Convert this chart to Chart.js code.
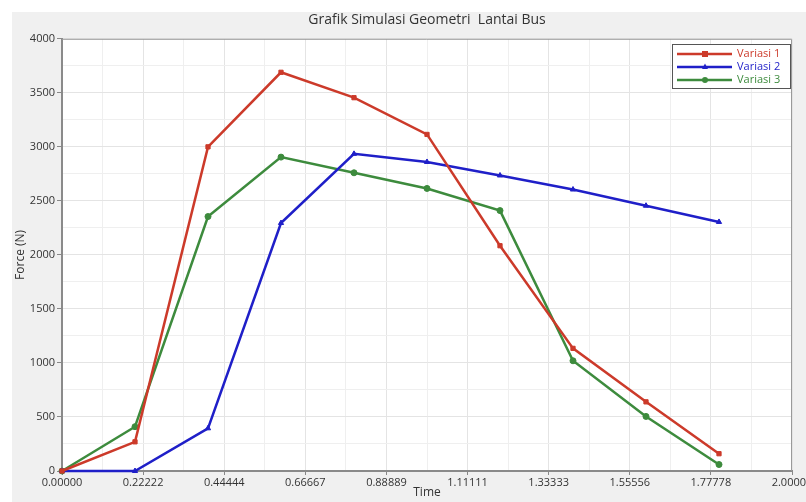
<!DOCTYPE html>
<html>
<head>
<meta charset="utf-8">
<script src="https://cdn.jsdelivr.net/npm/chart.js@4"></script>
<style>
  html, body { margin: 0; padding: 0; background: #fff; }
  #wrap { width: 806px; height: 502px; }
</style>
</head>
<body>
<div id="wrap"><canvas id="c" width="806" height="502"></canvas></div>
<script>
// --- DATA ---
const timeValues = [0, 0.2, 0.4, 0.6, 0.8, 1.0, 1.2, 1.4, 1.6, 1.8];
const variasi1 = [0, 270, 3000, 3690, 3455, 3115, 2085, 1135, 640, 160];
const variasi2 = [0, 0, 395, 2295, 2935, 2860, 2735, 2605, 2455, 2305];
const variasi3 = [0, 410, 2355, 2905, 2760, 2615, 2410, 1020, 505, 60];
const seriesNames = ["Variasi 1", "Variasi 2", "Variasi 3"];
const xTickLabels = ["0.00000", "0.22222", "0.44444", "0.66667", "0.88889", "1.11111", "1.33333", "1.55556", "1.77778", "2.00000"];
const yTickLabels = [0, 500, 1000, 1500, 2000, 2500, 3000, 3500, 4000];

const COLORS = ["#cc3a2a", "#1f1fc8", "#3d8b3d"];
const STYLES = ["rect", "triangle", "circle"];
const FONT = "'Open Sans', 'Noto Sans', sans-serif";

// major ticks + a minor one halfway between each pair
const withMinor = (major) => {
  const out = [];
  major.forEach((v, i) => {
    out.push({ value: v, major: true });
    if (i < major.length - 1) out.push({ value: (v + major[i + 1]) / 2, major: false });
  });
  return out;
};
const xTicks = withMinor(xTickLabels.map(Number));
const yTicks = withMinor(yTickLabels);

const toPoints = (ys) => ys.map((y, i) => ({ x: timeValues[i], y }));

const datasets = [variasi1, variasi2, variasi3].map((ys, i) => ({
  label: seriesNames[i],
  data: toPoints(ys),
  borderColor: COLORS[i],
  backgroundColor: COLORS[i],
  borderWidth: 2.5,
  pointStyle: STYLES[i],
  pointRadius: 3,
  pointBorderWidth: 1,
  tension: 0,
  clip: false
}));

// --- PLUGINS ---
const backdrop = {
  id: "backdrop",
  beforeDraw(chart) {
    const { ctx, chartArea: a } = chart;
    ctx.save();
    ctx.fillStyle = "#ffffff";
    ctx.fillRect(0, 0, chart.width, chart.height);
    ctx.fillStyle = "#f0f0f0";
    ctx.fillRect(12, 12, chart.width - 12, chart.height - 12);
    ctx.fillStyle = "#ffffff";
    ctx.fillRect(a.left, a.top, a.right - a.left, a.bottom - a.top);
    ctx.restore();
  },
  afterDraw(chart) {
    const { ctx, chartArea: a } = chart;
    ctx.save();
    ctx.strokeStyle = "#9a9a9a";
    ctx.lineWidth = 1;
    ctx.beginPath();
    ctx.moveTo(a.left, a.top + 0.5);
    ctx.lineTo(a.right - 0.5, a.top + 0.5);
    ctx.lineTo(a.right - 0.5, a.bottom);
    ctx.stroke();

    // legend box, top right inside the plot
    const bx = 672, by = 44, bw = 118, bh = 44;
    ctx.fillStyle = "#ffffff";
    ctx.fillRect(bx, by, bw, bh);
    ctx.strokeStyle = "#555";
    ctx.strokeRect(bx + 0.5, by + 0.5, bw, bh);
    ctx.font = "11px " + FONT;
    ctx.textBaseline = "middle";
    chart.data.datasets.forEach((ds, i) => {
      const y = by + 10 + i * 13;
      ctx.strokeStyle = ds.borderColor;
      ctx.lineWidth = 2.5;
      ctx.beginPath();
      ctx.moveTo(bx + 5, y);
      ctx.lineTo(bx + 60, y);
      ctx.stroke();
      const mx = bx + 33;
      ctx.fillStyle = ds.borderColor;
      ctx.beginPath();
      if (ds.pointStyle === "rect") ctx.rect(mx - 3, y - 3, 6, 6);
      else if (ds.pointStyle === "triangle") { ctx.moveTo(mx, y - 3.5); ctx.lineTo(mx + 3, y + 2); ctx.lineTo(mx - 3, y + 2); ctx.closePath(); }
      else ctx.arc(mx, y, 3, 0, Math.PI * 2);
      ctx.fill();
      ctx.fillText(ds.label, bx + 65, y);
    });
    ctx.restore();
  }
};

// --- CHART ---
new Chart(document.getElementById("c"), {
  type: "line",
  data: { datasets },
  plugins: [backdrop],
  options: {
    responsive: false,
    animation: false,
    layout: { padding: { left: 0, right: 14, top: 0, bottom: 0 } },
    plugins: {
      legend: { display: false },
      tooltip: { enabled: false },
      title: {
        display: true,
        text: "Grafik Simulasi Geometri  Lantai Bus",
        fullSize: false,
        color: "#333",
        font: { family: FONT, size: 14, weight: "normal" },
        padding: { top: 12, bottom: 10 }
      }
    },
    scales: {
      x: {
        type: "linear",
        min: 0,
        max: 2,
        afterBuildTicks: (s) => { s.ticks = xTicks.map(t => ({ ...t })); },
        afterFit: (s) => { s.height = 31; s.paddingLeft = 0; s.paddingRight = 0; },
        ticks: {
          autoSkip: false,
          maxRotation: 0,
          padding: 1,
          color: "#333",
          font: { family: FONT, size: 11 },
          callback: (v, i) => (i % 2 ? "" : xTickLabels[i / 2])
        },
        grid: {
          color: (c) => (c.index % 2 ? "#efefef" : "#e4e4e4"),
          tickColor: (c) => (c.index % 2 ? "rgba(0,0,0,0)" : "#888"),
          tickLength: 4
        },
        border: { color: "#8a8a8a", width: 2 },
        title: {
          display: true,
          text: "Time",
          color: "#333",
          font: { family: FONT, size: 12 },
          padding: { top: 0, bottom: 2 }
        }
      },
      y: {
        type: "linear",
        min: 0,
        max: 4000,
        afterBuildTicks: (s) => { s.ticks = yTicks.map(t => ({ ...t })); },
        afterFit: (s) => { s.width = 62; s.paddingTop = 0; s.paddingBottom = 0; },
        ticks: {
          autoSkip: false,
          padding: 2,
          color: "#333",
          font: { family: FONT, size: 11 },
          callback: (v, i) => (i % 2 ? "" : String(yTickLabels[i / 2]))
        },
        grid: {
          color: (c) => (c.index % 2 ? "#efefef" : "#e4e4e4"),
          tickColor: (c) => (c.index % 2 ? "rgba(0,0,0,0)" : "#888"),
          tickLength: 5
        },
        border: { color: "#8a8a8a", width: 2 },
        title: {
          display: true,
          text: "Force (N)",
          color: "#333",
          font: { family: FONT, size: 12 },
          padding: { top: 13, bottom: 0 }
        }
      }
    }
  }
});
</script>
</body>
</html>
